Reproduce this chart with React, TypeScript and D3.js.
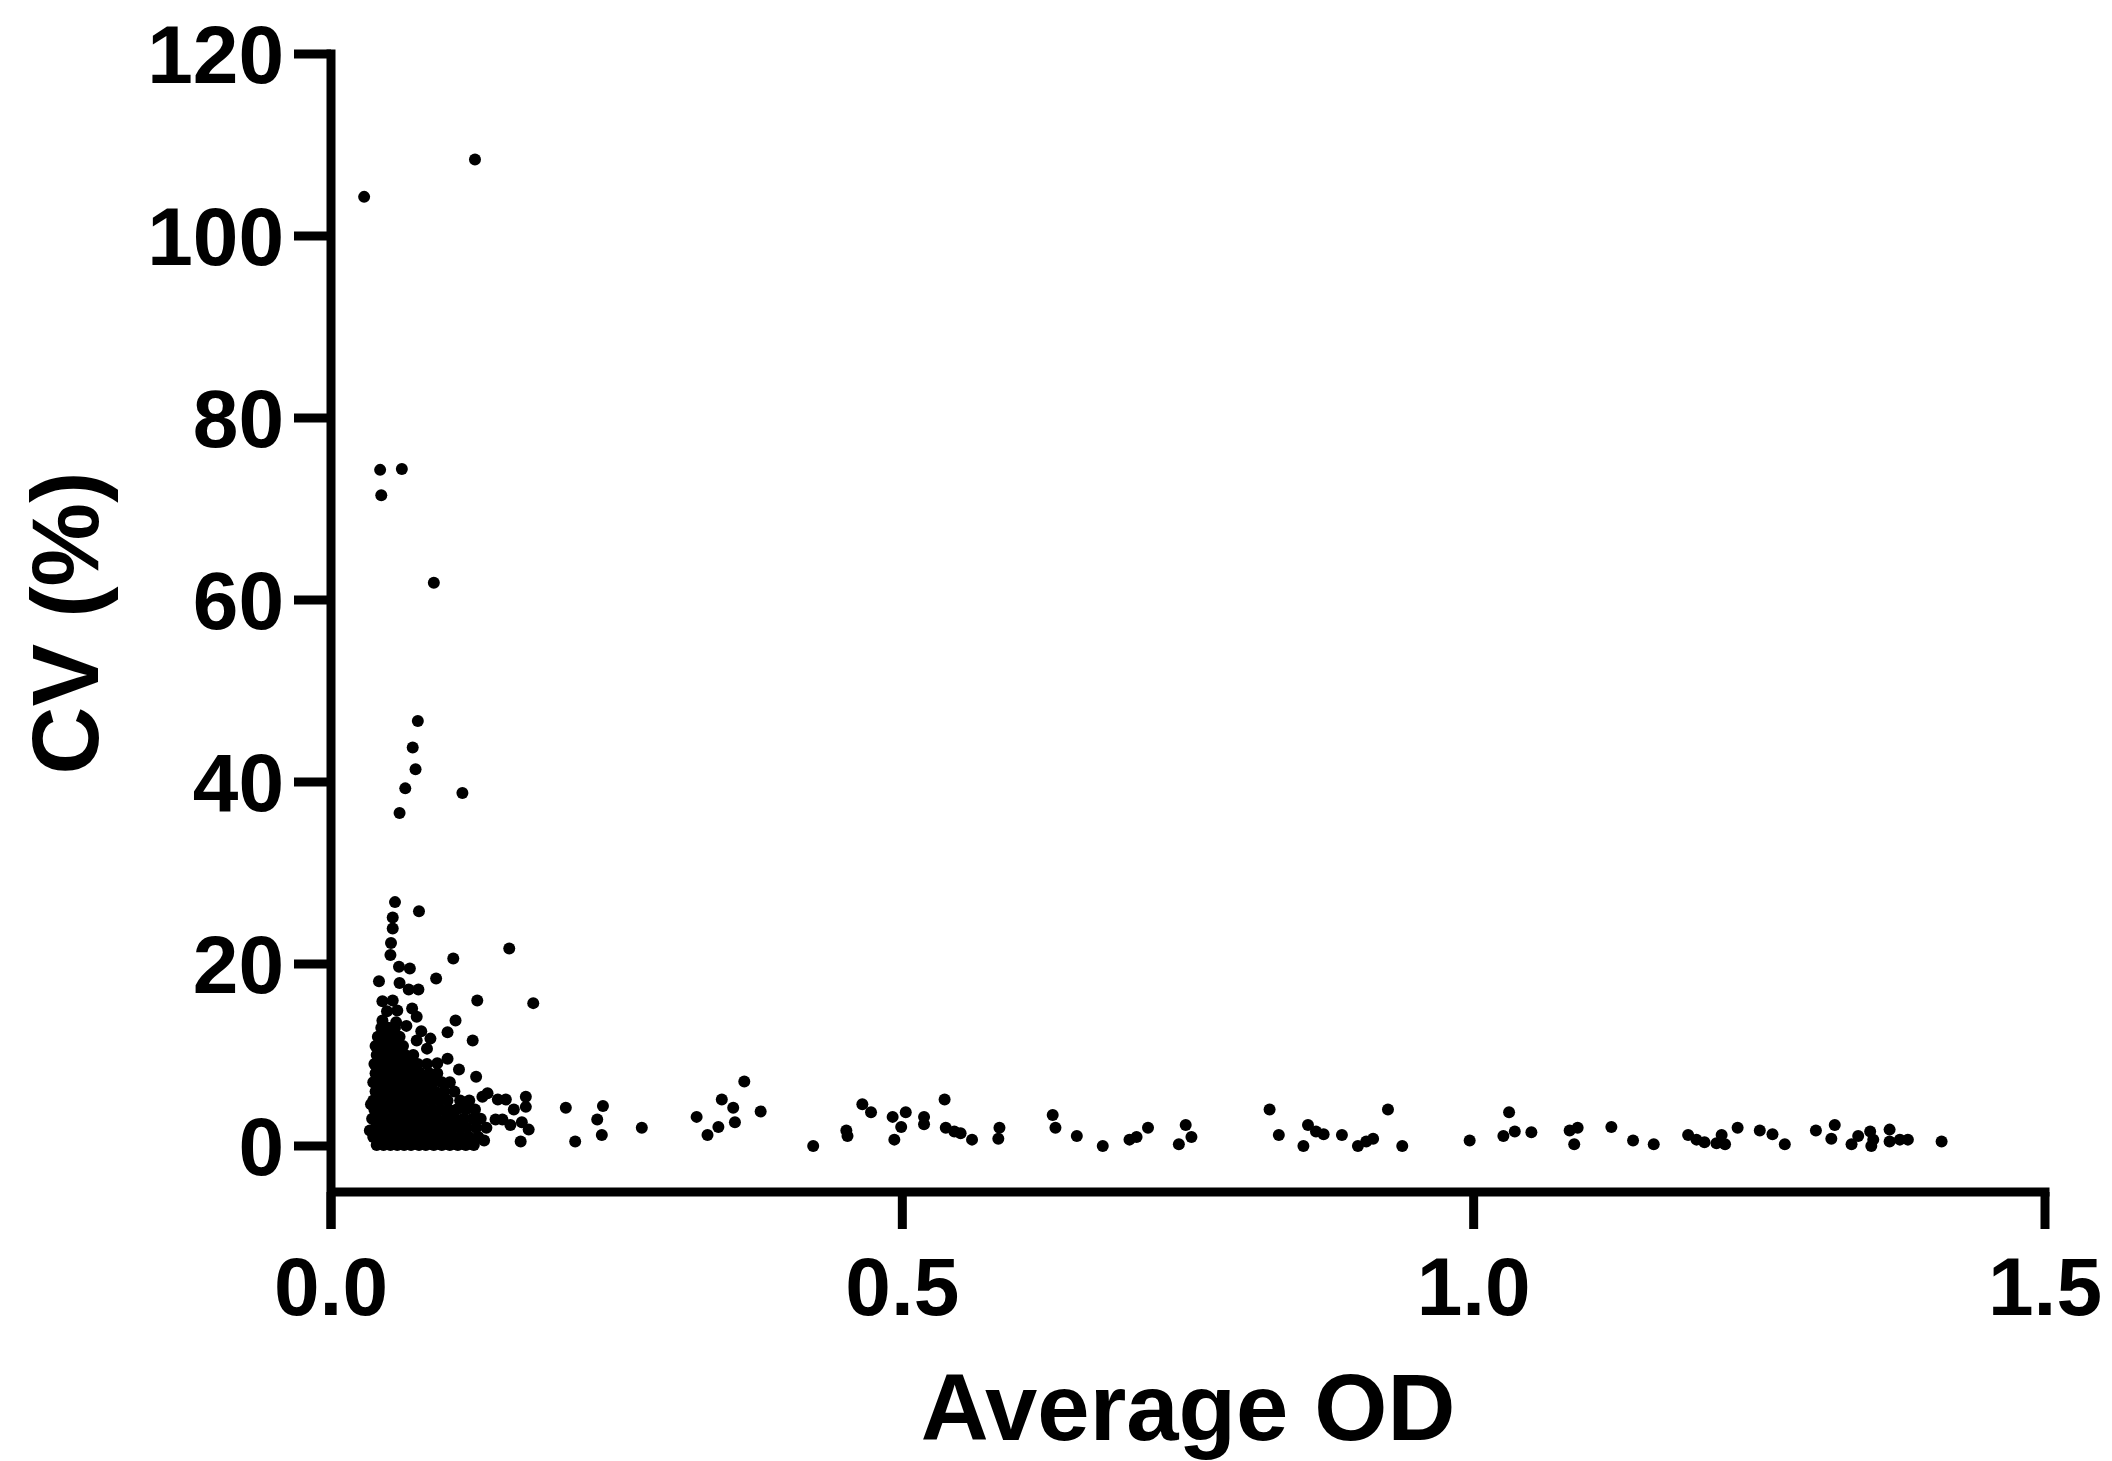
import React, { useEffect, useRef } from 'react';
import * as d3 from 'd3';

// [average OD, CV %]
const outlierPoints: [number, number][] = [
  [0.126, 108.4], [0.029, 104.3], [0.043, 74.3], [0.062, 74.4], [0.044, 71.5],
  [0.090, 61.9], [0.076, 46.7], [0.0715, 43.8], [0.074, 41.4], [0.065, 39.3],
  [0.115, 38.8], [0.060, 36.6], [0.056, 26.8], [0.077, 25.8], [0.054, 25.1],
  [0.054, 23.9], [0.0525, 22.3], [0.156, 21.7], [0.052, 21.0], [0.107, 20.6],
  [0.0595, 19.7], [0.069, 19.5], [0.042, 18.1], [0.092, 18.4], [0.060, 17.9],
  [0.068, 17.2], [0.0765, 17.2], [0.128, 16.0], [0.177, 15.7], [0.045, 15.9],
  [0.054, 16.0], [0.049, 14.8], [0.058, 14.9], [0.071, 15.1], [0.075, 14.2],
  [0.045, 13.8], [0.057, 13.6], [0.109, 13.8], [0.102, 12.5], [0.124, 11.6],
  [0.075, 11.6], [0.087, 11.8], [0.102, 9.6], [0.093, 9.1], [0.112, 8.4],
  [0.127, 7.6], [0.137, 5.8], [0.1325, 5.4], [0.146, 5.1], [0.153, 5.1],
  [0.1705, 5.4], [0.1705, 4.3], [0.160, 4.0], [0.150, 2.9], [0.144, 2.9],
  [0.157, 2.3], [0.167, 2.6], [0.173, 1.8], [0.166, 0.5], [0.079, 12.6],
  [0.066, 13.2], [0.084, 10.7], [0.035, 4.6], [0.034, 1.7], [0.134, 0.6],
];

// dense block near the origin, one array per CV level
const denseCv = [0.1, 1.0, 2.0, 3.0, 4.0, 5.0, 6.0, 7.0, 8.0, 9.0, 10.0, 11.0, 12.0, 13.0];
const denseOd: number[][] = [
  [0.040, 0.046, 0.052, 0.058, 0.064, 0.070, 0.077, 0.083, 0.090, 0.097, 0.104, 0.111, 0.118, 0.125],
  [0.037, 0.043, 0.049, 0.056, 0.062, 0.068, 0.074, 0.081, 0.087, 0.094, 0.100, 0.107, 0.114, 0.121, 0.129],
  [0.039, 0.045, 0.051, 0.057, 0.064, 0.071, 0.078, 0.084, 0.091, 0.098, 0.105, 0.112, 0.119, 0.127, 0.136],
  [0.036, 0.042, 0.048, 0.054, 0.060, 0.067, 0.073, 0.080, 0.086, 0.093, 0.101, 0.108, 0.116, 0.124, 0.131],
  [0.038, 0.044, 0.050, 0.056, 0.063, 0.069, 0.076, 0.082, 0.089, 0.096, 0.103, 0.110, 0.118, 0.126],
  [0.037, 0.043, 0.049, 0.055, 0.061, 0.067, 0.074, 0.081, 0.088, 0.095, 0.102, 0.113, 0.121],
  [0.039, 0.045, 0.051, 0.057, 0.063, 0.070, 0.077, 0.084, 0.091, 0.099, 0.108],
  [0.037, 0.043, 0.049, 0.055, 0.061, 0.068, 0.075, 0.082, 0.089, 0.097, 0.104],
  [0.039, 0.045, 0.051, 0.057, 0.064, 0.071, 0.078, 0.086, 0.093],
  [0.038, 0.044, 0.050, 0.056, 0.062, 0.069, 0.076, 0.084],
  [0.040, 0.046, 0.052, 0.058, 0.065, 0.072],
  [0.039, 0.045, 0.051, 0.057, 0.063],
  [0.041, 0.047, 0.053, 0.060],
  [0.044, 0.050, 0.056],
];

const midOdPoints: [number, number][] = [
  [0.2055, 4.2], [0.2137, 0.5], [0.238, 4.4], [0.233, 2.9], [0.237, 1.2],
  [0.272, 2.0], [0.320, 3.2], [0.342, 5.1], [0.3617, 7.1], [0.352, 4.2],
  [0.3535, 2.6], [0.339, 2.1], [0.3295, 1.2], [0.376, 3.8], [0.422, 0.0],
  [0.451, 1.7], [0.452, 1.1], [0.465, 4.6], [0.4726, 3.7], [0.4915, 3.2],
  [0.503, 3.7], [0.499, 2.1], [0.493, 0.7], [0.519, 3.2], [0.519, 2.4],
  [0.537, 5.1], [0.538, 2.0], [0.5455, 1.6], [0.551, 1.4], [0.561, 0.7],
  [0.585, 2.0], [0.584, 0.8], [0.6316, 3.4], [0.634, 2.0], [0.6527, 1.1],
  [0.6754, 0.0], [0.6988, 0.7], [0.705, 1.0], [0.715, 2.0], [0.748, 2.3],
  [0.753, 1.0], [0.742, 0.2], [0.8214, 4.0], [0.8295, 1.2], [0.851, 0.0],
  [0.855, 2.3], [0.862, 1.6], [0.8687, 1.3], [0.8847, 1.2], [0.8987, 0.0],
  [0.906, 0.5], [0.912, 0.8], [0.925, 4.0], [0.9375, 0.0],
];

const highOdPoints: [number, number][] = [
  [0.9965, 0.6], [1.031, 3.7], [1.026, 1.1], [1.036, 1.6], [1.0505, 1.5],
  [1.084, 1.7], [1.091, 2.0], [1.088, 0.2], [1.1205, 2.1], [1.1395, 0.6],
  [1.1576, 0.2], [1.1877, 1.2], [1.195, 0.7], [1.202, 0.4], [1.2125, 0.3],
  [1.217, 1.2], [1.22, 0.2], [1.231, 2.0], [1.2504, 1.7], [1.2615, 1.3],
  [1.2723, 0.2], [1.2995, 1.7], [1.316, 2.3], [1.313, 0.8], [1.3307, 0.2],
  [1.3365, 1.1], [1.347, 1.6], [1.348, 0.0], [1.3497, 0.7], [1.364, 1.8],
  [1.364, 0.5], [1.373, 0.7], [1.380, 0.7], [1.4095, 0.5],
];

const xTicks = [0, 0.5, 1.0, 1.5];
const yTicks = [0, 20, 40, 60, 80, 100, 120];
const xTitle = 'Average OD';
const yTitle = 'CV (%)';

const FONT = '"Liberation Sans", Arial, Helvetica, sans-serif';

export default function App() {
  const svgRef = useRef<SVGSVGElement | null>(null);

  useEffect(() => {
    if (!svgRef.current) return;
    const svg = d3.select(svgRef.current);
    svg.selectAll('*').remove();

    const x = d3.scaleLinear().domain([0, 1.5]).range([331, 2045]);
    const y = d3.scaleLinear().domain([0, 120]).range([1146, 54]);
    const axisY = 1192;
    const tickLen = 37;
    const lw = 9;

    const dense: [number, number][] = [];
    denseOd.forEach((row, i) => row.forEach(od => dense.push([od, denseCv[i]])));
    const all = [...dense, ...outlierPoints, ...midOdPoints, ...highOdPoints];

    svg.append('g')
      .selectAll('circle')
      .data(all)
      .enter()
      .append('circle')
      .attr('cx', d => x(d[0]))
      .attr('cy', d => y(d[1]))
      .attr('r', 6)
      .attr('fill', '#000');

    // y axis
    const ya = svg.append('g');
    ya.append('line')
      .attr('x1', x(0)).attr('x2', x(0))
      .attr('y1', y(120) - lw / 2).attr('y2', axisY + tickLen)
      .attr('stroke', '#000').attr('stroke-width', lw);
    ya.selectAll('line.tick')
      .data(yTicks)
      .enter()
      .append('line')
      .attr('class', 'tick')
      .attr('x1', x(0) - tickLen).attr('x2', x(0))
      .attr('y1', d => y(d)).attr('y2', d => y(d))
      .attr('stroke', '#000').attr('stroke-width', lw);
    ya.selectAll('text')
      .data(yTicks)
      .enter()
      .append('text')
      .attr('x', x(0) - tickLen - 10)
      .attr('y', d => y(d) + 29)
      .attr('text-anchor', 'end')
      .attr('font-family', FONT)
      .attr('font-weight', 'bold')
      .attr('font-size', 82)
      .text(d => String(d));

    // x axis
    const xa = svg.append('g');
    xa.append('line')
      .attr('x1', x(0)).attr('x2', x(1.5) + lw / 2)
      .attr('y1', axisY).attr('y2', axisY)
      .attr('stroke', '#000').attr('stroke-width', lw);
    xa.selectAll('line.tick')
      .data(xTicks)
      .enter()
      .append('line')
      .attr('class', 'tick')
      .attr('x1', d => x(d)).attr('x2', d => x(d))
      .attr('y1', axisY).attr('y2', axisY + tickLen)
      .attr('stroke', '#000').attr('stroke-width', lw);
    xa.selectAll('text')
      .data(xTicks)
      .enter()
      .append('text')
      .attr('x', d => x(d))
      .attr('y', 1315)
      .attr('text-anchor', 'middle')
      .attr('font-family', FONT)
      .attr('font-weight', 'bold')
      .attr('font-size', 82)
      .text(d => d3.format('.1f')(d));

    svg.append('text')
      .attr('x', (x(0) + x(1.5)) / 2)
      .attr('y', 1440)
      .attr('text-anchor', 'middle')
      .attr('font-family', FONT)
      .attr('font-weight', 'bold')
      .attr('font-size', 94)
      .text(xTitle);

    svg.append('text')
      .attr('transform', 'translate(98,623) rotate(-90)')
      .attr('text-anchor', 'middle')
      .attr('font-family', FONT)
      .attr('font-weight', 'bold')
      .attr('font-size', 94)
      .text(yTitle);
  }, []);

  return (
    <svg
      ref={svgRef}
      width={2112}
      height={1461}
      style={{ position: 'absolute', left: 0, top: 0, background: '#fff' }}
    />
  );
}
